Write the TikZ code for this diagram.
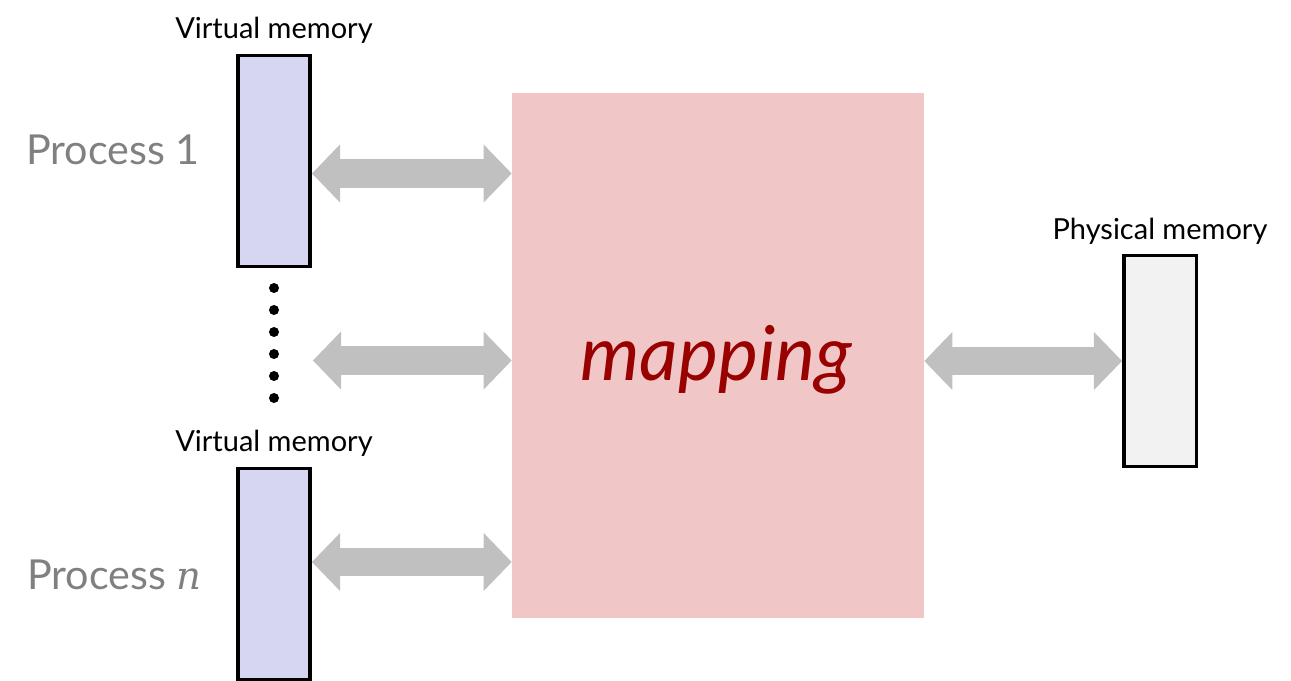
\documentclass[tikz,border=0pt]{standalone}
\usepackage{fontspec}
\setmainfont{Lato}
\newfontfamily\varfont{DejaVu Serif}
\usepackage{tikz}
\usetikzlibrary{arrows.meta,positioning,calc}
\definecolor{Lavender}{RGB}{214,214,242}
\definecolor{MapPink}{RGB}{240,198,199}
\definecolor{ArrowGray}{RGB}{192,192,192}
\definecolor{LabelGray}{RGB}{128,128,128}
\definecolor{MapRed}{RGB}{153,0,0}
\definecolor{PhysGray}{RGB}{242,242,242}
\tikzset{
  vmem/.style={draw=black,line width=2pt,fill=Lavender,minimum width=1.45cm,minimum height=4.22cm,inner sep=0pt},
  pmem/.style={vmem,fill=PhysGray},
  mapbox/.style={fill=MapPink,minimum width=8.24cm,minimum height=10.5cm,inner sep=0pt},
  memlabel/.style={font=\fontsize{16.5}{18}\selectfont,text=black,inner sep=0pt},
  proc/.style={font=\fontsize{23.5}{26}\selectfont,text=LabelGray,inner sep=0pt,anchor=east},
  biarrow/.style={draw=ArrowGray,line width=16.4pt,
    {Triangle[length=16pt,width=33pt,line width=0.8pt]}-{Triangle[length=16pt,width=33pt,line width=0.8pt]}}
}
\begin{document}
\begin{tikzpicture}
  \useasboundingbox (0,0) rectangle (25.82,13.62);
  % memory boxes and mapping
  \node[vmem] (vm1) at (5.48,10.40) {};
  \node[vmem] (vmn) at (5.48,2.14) {};
  \node[mapbox] (map) at (14.36,6.51) {};
  \node[pmem] (phys) at (23.2,6.4) {};
  \node[font=\fontsize{43}{46}\selectfont\itshape,text=MapRed] (maptext) at (14.32,6.42) {mapping};
  % labels
  \node[memlabel,above=2mm of vm1] (vm1lab) {Virtual memory};
  \node[memlabel,above=2mm of vmn] (vmnlab) {Virtual memory};
  \node[memlabel,above=1.8mm of phys] (physlab) {Physical memory};
  \node[proc] (p1) at (4.0,10.62) {Process 1};
  \node[proc] (pn) at (4.04,2.12) {Process {\varfont\itshape\fontsize{22}{24}\selectfont n}};
  % dots between processes
  \foreach \y in {7.86,7.42,6.98,6.54,6.10,5.66}
    \fill (5.48,\y) circle (0.1);
  % arrows
  \coordinate (mid) at (6.26,6.41);
  \draw[biarrow] ([yshift=-2.5mm]vm1.east) -- ([yshift=-2.5mm]vm1.east -| map.west);
  \draw[biarrow] (mid) -- (mid -| map.west);
  \draw[biarrow] ([yshift=2.4mm]vmn.east) -- ([yshift=2.4mm]vmn.east -| map.west);
  \draw[biarrow] (phys.west -| map.east) -- (phys.west);
\end{tikzpicture}
\end{document}
